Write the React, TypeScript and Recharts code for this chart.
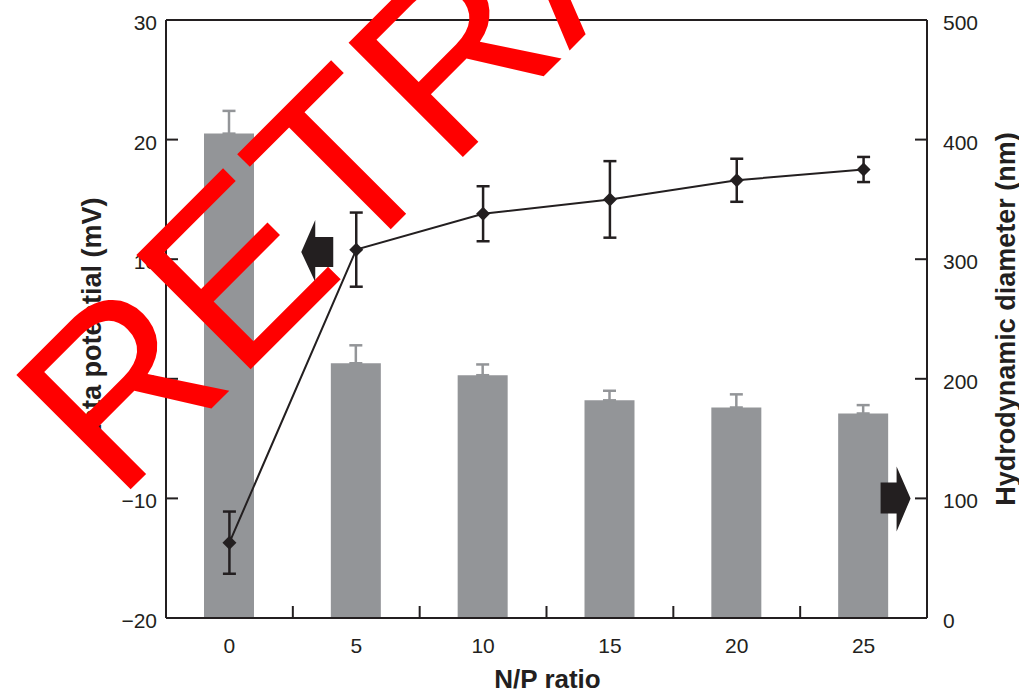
import React from "react";
import {
  ComposedChart,
  Bar,
  Line,
  XAxis,
  YAxis,
  ErrorBar,
  ReferenceLine,
  ReferenceDot,
} from "recharts";

// N/P ratios on the x axis
const ratios = ["0", "5", "10", "15", "20", "25"];
// hydrodynamic diameter (nm) - bars, right axis
const diameter = [405, 213, 203, 182, 176, 171];
const diameterErr = [19, 15, 9, 8, 11, 7];
// zeta potential (mV) - line, left axis
const zeta = [-13.7, 10.8, 13.8, 15.0, 16.6, 17.5];
const zetaErr = [2.6, 3.1, 2.3, 3.2, 1.8, 1.05];

const zetaTicks = [-20, -10, 0, 10, 20, 30];
const diameterTicks = [0, 100, 200, 300, 400, 500];

const data = ratios.map((ratio, i) => ({
  ratio,
  diameter: diameter[i],
  diameterErr: [0, diameterErr[i]],
  zeta: zeta[i],
  zetaErr: zetaErr[i],
}));

const INK = "#231f20";
const GREY = "#939598";
const FONT = "'Liberation Sans', Arial, Helvetica, sans-serif";

const W = 1019;
const H = 689;
const margin = { top: 20, right: 32, bottom: 21, left: 106 };
const axisW = 60;
const plotW = W - margin.left - margin.right - axisW * 2;
const halfBand = plotW / ratios.length / 2;

const minus = (v: number) => String(v).replace("-", "\u2212");

const LeftTick = (props: any) => {
  const { x, y, payload } = props;
  return (
    <g>
      <line x1={x} x2={x + 12} y1={y} y2={y} stroke={INK} strokeWidth={2} />
      <text x={x - 9} y={y + 10} textAnchor="end" fontSize={21} fill={INK} fontFamily={FONT}>
        {minus(payload.value)}
      </text>
    </g>
  );
};

const RightTick = (props: any) => {
  const { x, y, payload } = props;
  return (
    <g>
      <line x1={x} x2={x - 12} y1={y} y2={y} stroke={INK} strokeWidth={2} />
      <text x={x + 16} y={y + 10} textAnchor="start" fontSize={21} fill={INK} fontFamily={FONT}>
        {payload.value}
      </text>
    </g>
  );
};

// ticks sit between the categories, labels under the bars
const XTick = (props: any) => {
  const { x, y, payload, index } = props;
  return (
    <g>
      {index < ratios.length - 1 && (
        <line x1={x + halfBand} x2={x + halfBand} y1={y} y2={y - 12} stroke={INK} strokeWidth={2} />
      )}
      <text x={x} y={y + 35} textAnchor="middle" fontSize={21} fill={INK} fontFamily={FONT}>
        {payload.value}
      </text>
    </g>
  );
};

const Diamond = (props: any) => {
  const { cx, cy, index } = props;
  if (cx == null || cy == null) return null;
  return (
    <path
      key={`d-${index}`}
      d={`M${cx},${cy - 7} L${cx + 7},${cy} L${cx},${cy + 7} L${cx - 7},${cy} Z`}
      fill={INK}
    />
  );
};

// arrow pointing to the left axis, drawn left of the 5 point
const LeftArrow = (props: any) => {
  const { cx, cy } = props;
  const tip = cx - 55;
  return (
    <path
      d={`M${tip},${cy} L${tip + 14},${cy - 32} L${tip + 14},${cy - 15} L${tip + 32},${cy - 15}
          L${tip + 32},${cy + 15} L${tip + 14},${cy + 15} L${tip + 14},${cy + 30} Z`}
      fill={INK}
    />
  );
};

// arrow pointing to the right axis
const RightArrow = (props: any) => {
  const { cx, cy } = props;
  const tip = cx + 47;
  return (
    <path
      d={`M${tip},${cy} L${tip - 14},${cy - 32} L${tip - 14},${cy - 16} L${tip - 30},${cy - 16}
          L${tip - 30},${cy + 15} L${tip - 14},${cy + 15} L${tip - 14},${cy + 33} Z`}
      fill={INK}
    />
  );
};

const App = () => {
  return (
    <div style={{ position: "absolute", left: 0, top: 0, width: W, height: H, fontFamily: FONT }}>
      <ComposedChart width={W} height={H} data={data} margin={margin}>
        <XAxis
          dataKey="ratio"
          interval={0}
          height={50}
          tickSize={0}
          tickMargin={0}
          tickLine={false}
          axisLine={{ stroke: INK, strokeWidth: 2 }}
          tick={<XTick />}
          label={{
            value: "N/P ratio",
            position: "center",
            dy: 36,
            dx: 1,
            fontSize: 26,
            fontWeight: 700,
            fill: INK,
            fontFamily: FONT,
          }}
        />
        <YAxis
          yAxisId="left"
          orientation="left"
          width={axisW}
          domain={[-20, 30]}
          ticks={zetaTicks}
          interval={0}
          tickSize={0}
          tickMargin={0}
          tickLine={false}
          axisLine={{ stroke: INK, strokeWidth: 2 }}
          tick={<LeftTick />}
          label={{
            value: "Zeta potential (mV)",
            angle: -90,
            position: "center",
            dx: -45,
            fontSize: 27,
            fontWeight: 700,
            fill: INK,
            fontFamily: FONT,
          }}
        />
        <YAxis
          yAxisId="right"
          orientation="right"
          width={axisW}
          domain={[0, 500]}
          ticks={diameterTicks}
          interval={0}
          tickSize={0}
          tickMargin={0}
          tickLine={false}
          axisLine={{ stroke: INK, strokeWidth: 2 }}
          tick={<RightTick />}
          label={{
            value: "Hydrodynamic diameter (nm)",
            angle: -90,
            position: "center",
            dx: 48,
            fontSize: 27,
            fontWeight: 700,
            fill: INK,
            fontFamily: FONT,
          }}
        />
        <ReferenceLine yAxisId="left" y={30} stroke={INK} strokeWidth={2} />
        <Bar yAxisId="right" dataKey="diameter" fill={GREY} barSize={50} isAnimationActive={false}>
          <ErrorBar dataKey="diameterErr" direction="y" width={6.5} stroke={GREY} strokeWidth={2.5} />
        </Bar>
        <Line
          yAxisId="left"
          dataKey="zeta"
          stroke={INK}
          strokeWidth={2}
          dot={Diamond}
          activeDot={false}
          isAnimationActive={false}
        >
          <ErrorBar dataKey="zetaErr" direction="y" width={6.5} stroke={INK} strokeWidth={2.5} />
        </Line>
        <ReferenceDot yAxisId="left" x="5" y={10.6} shape={(p: any) => <LeftArrow {...p} />} />
        <ReferenceDot yAxisId="right" x="25" y={100} shape={(p: any) => <RightArrow {...p} />} />
      </ComposedChart>
      <svg
        width={W}
        height={H}
        style={{ position: "absolute", left: 0, top: 0, pointerEvents: "none" }}
      >
        <text
          x={117}
          y={503}
          transform="rotate(-45 117 503)"
          fontSize={235}
          fill="#ff0000"
          fontFamily={FONT}
        >
          RETRACTED
        </text>
      </svg>
    </div>
  );
};

export default App;
